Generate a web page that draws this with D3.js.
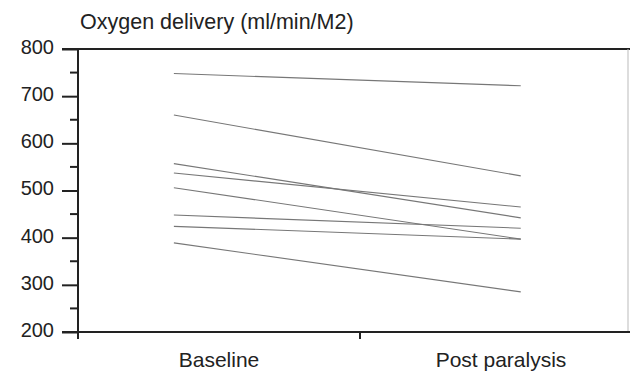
<!DOCTYPE html>
<html>
<head>
<meta charset="utf-8">
<script src="https://cdn.jsdelivr.net/npm/d3@7/dist/d3.min.js"></script>
<style>
  body { margin: 0; background: #fff; }
  svg { display: block; font-family: "Liberation Sans", Arial, sans-serif; }
</style>
</head>
<body>
<svg id="chart" width="630" height="372"></svg>
<script>
// data
const categories = ["Baseline", "Post paralysis"];
const baseline = [748, 660, 557, 537, 506, 448, 424, 389];
const postParalysis = [722, 531, 442, 465, 397, 420, 397, 285];
const yTicks = [200, 300, 400, 500, 600, 700, 800];
const yMinorTicks = [250, 350, 450, 550, 650, 750];
// where the lines sit on the category axis (0..2, boundary at 1)
const lineX = [0.34, 1.57];

const margin = { top: 49, right: 2, bottom: 40, left: 78 };
const W = 630, H = 372;
const height = H - margin.top - margin.bottom;

const svg = d3.select("#chart");
const g = svg.append("g")
    .attr("transform", `translate(${margin.left},${margin.top})`);

const x = d3.scaleLinear().domain([0, 2]).range([0, 564]);
const y = d3.scaleLinear().domain([200, 800]).range([height, 0]);
const plotRight = W - margin.left - margin.right;

// frame: top and right lines
g.append("line")
    .attr("x1", -16).attr("x2", plotRight + 2)
    .attr("y1", 0).attr("y2", 0)
    .attr("stroke", "#222").attr("stroke-width", 2);
g.append("line")
    .attr("x1", plotRight).attr("x2", plotRight)
    .attr("y1", 0).attr("y2", height)
    .attr("stroke", "#bbb").attr("stroke-width", 1);

// subject lines
const pairs = baseline.map((b, i) => [b, postParalysis[i]]);
const line = d3.line()
    .x((d, i) => x(lineX[i]))
    .y(d => y(d));
g.selectAll("path.subject")
    .data(pairs)
    .enter()
    .append("path")
    .attr("class", "subject")
    .attr("d", line)
    .attr("fill", "none")
    .attr("stroke", "#777")
    .attr("stroke-width", 1.1);

// left axis
const yAxis = g.append("g")
    .call(d3.axisLeft(y).tickValues(yTicks).tickSize(16).tickPadding(8));
yAxis.select(".domain").remove();
yAxis.append("line")
    .attr("x1", 0).attr("x2", 0)
    .attr("y1", 0).attr("y2", height + 7)
    .attr("stroke", "#222").attr("stroke-width", 2);
yAxis.selectAll(".tick line").attr("stroke", "#222").attr("stroke-width", 2);
yAxis.selectAll(".tick text")
    .attr("fill", "#222")
    .style("font-size", "20px")
    .attr("dy", "0.22em");
g.append("g").selectAll("line")
    .data(yMinorTicks)
    .enter()
    .append("line")
    .attr("x1", -8).attr("x2", 0)
    .attr("y1", d => y(d)).attr("y2", d => y(d))
    .attr("stroke", "#222").attr("stroke-width", 2);

// bottom axis
const xAxis = g.append("g")
    .attr("transform", `translate(0,${height})`);
xAxis.append("line")
    .attr("x1", -16).attr("x2", plotRight + 2)
    .attr("y1", 0).attr("y2", 0)
    .attr("stroke", "#222").attr("stroke-width", 2);
xAxis.append("line")
    .attr("x1", x(1)).attr("x2", x(1))
    .attr("y1", 0).attr("y2", 7)
    .attr("stroke", "#222").attr("stroke-width", 2);
xAxis.selectAll("text.cat")
    .data(categories)
    .enter()
    .append("text")
    .attr("class", "cat")
    .attr("x", (d, i) => x(i + 0.5))
    .attr("y", 35)
    .attr("text-anchor", "middle")
    .attr("fill", "#222")
    .style("font-size", "21px")
    .text(d => d);

// title
svg.append("text")
    .attr("x", 80)
    .attr("y", 29)
    .attr("fill", "#222")
    .style("font-size", "21.5px")
    .text("Oxygen delivery (ml/min/M2)");
</script>
</body>
</html>
